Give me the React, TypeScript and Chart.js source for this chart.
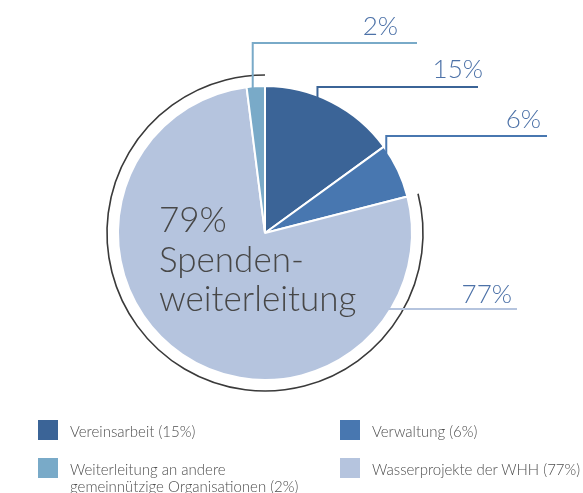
import React, { useEffect, useRef } from "react";
import { Chart, registerables } from "chart.js";

Chart.register(...registerables);

// ---- data ----
const categories = [
  "Vereinsarbeit",
  "Verwaltung",
  "Wasserprojekte der WHH",
  "Weiterleitung an andere gemeinnützige Organisationen",
];
const values = [15, 6, 77, 2];
const sliceColors = ["#3b6497", "#4877b0", "#b5c4de", "#79aac8"];
const legendOrder = [0, 1, 3, 2];
const legendLines = [
  ["Vereinsarbeit (15%)"],
  ["Verwaltung (6%)"],
  ["Wasserprojekte der WHH (77%)"],
  ["Weiterleitung an andere", "gemeinnützige Organisationen (2%)"],
];
const centerLines = ["Spenden-", "weiterleitung"];

// ---- layout (label placement, not data) ----
type LabelCfg = {
  idx: number;
  mode: "vertical" | "horizontal";
  frac: number;
  lineY: number;
  endX: number;
  textRight: number;
  baseline: number;
};
const labelCfgs: LabelCfg[] = [
  { idx: 3, mode: "vertical", frac: 0.33, lineY: 43, endX: 417, textRight: 398, baseline: 35 },
  { idx: 0, mode: "vertical", frac: 0.39, lineY: 87, endX: 478, textRight: 483, baseline: 78 },
  { idx: 1, mode: "vertical", frac: 0.1, lineY: 136, endX: 547, textRight: 541, baseline: 128 },
  { idx: 2, mode: "horizontal", frac: 0, lineY: 309, endX: 517, textRight: 512, baseline: 303 },
];

const FONT = "Lato, 'Open Sans', sans-serif";

const overlayPlugin = {
  id: "overlay",
  afterDatasetsDraw(chart: any) {
    const ctx = chart.ctx as CanvasRenderingContext2D;
    const meta = chart.getDatasetMeta(0);
    const arcs = meta.data as any[];
    if (!arcs.length) return;
    const cx = arcs[0].x;
    const cy = arcs[0].y;
    const r = arcs[0].outerRadius - 1;

    ctx.save();
    // outer arc around the Spendenweiterleitung part
    ctx.beginPath();
    ctx.strokeStyle = "#3a3a3a";
    ctx.lineWidth = 1.6;
    ctx.arc(cx, cy, r + 12, arcs[1].endAngle, arcs[3].endAngle, false);
    ctx.stroke();

    // leader lines and labels
    labelCfgs.forEach((cfg) => {
      const a = arcs[cfg.idx];
      ctx.strokeStyle = sliceColors[cfg.idx];
      ctx.lineWidth = 2;
      ctx.beginPath();
      if (cfg.mode === "vertical") {
        const ang = a.startAngle + cfg.frac * (a.endAngle - a.startAngle);
        const px = cx + Math.cos(ang) * r;
        const py = cy + Math.sin(ang) * r;
        ctx.moveTo(px, py + 2);
        ctx.lineTo(px, cfg.lineY);
        ctx.lineTo(cfg.endX, cfg.lineY);
      } else {
        const dy = cfg.lineY - cy;
        const px = cx + Math.sqrt(Math.max(r * r - dy * dy, 0));
        ctx.moveTo(px - 2, cfg.lineY);
        ctx.lineTo(cfg.endX, cfg.lineY);
      }
      ctx.stroke();

      ctx.fillStyle = "#4d72a8";
      ctx.font = `300 26px ${FONT}`;
      ctx.textAlign = "right";
      ctx.textBaseline = "alphabetic";
      ctx.fillText(`${values[cfg.idx]}%`, cfg.textRight, cfg.baseline);
    });

    // center text
    ctx.fillStyle = "#474747";
    ctx.font = `300 35px ${FONT}`;
    ctx.textAlign = "left";
    ctx.textBaseline = "alphabetic";
    const total = values[2] + values[3];
    ctx.fillText(`${total}%`, 159, 232);
    centerLines.forEach((t, i) => ctx.fillText(t, 159, 272 + i * 39));
    ctx.restore();
  },
};

export default function App() {
  const ref = useRef<HTMLCanvasElement | null>(null);
  useEffect(() => {
    if (!ref.current) return;
    const chart = new Chart(ref.current, {
      type: "pie",
      data: {
        labels: categories,
        datasets: [
          {
            data: values,
            backgroundColor: sliceColors,
            borderColor: "#ffffff",
            borderWidth: 2,
            hoverOffset: 0,
          },
        ],
      },
      options: {
        responsive: false,
        animation: false,
        radius: 147,
        layout: { padding: { left: 0, right: 53, top: 0, bottom: 27 } },
        plugins: {
          legend: { display: false },
          tooltip: { enabled: false },
        },
      } as any,
      plugins: [overlayPlugin],
    });
    return () => chart.destroy();
  }, []);

  const legendPos = [
    { x: 38, y: 420 },
    { x: 340, y: 420 },
    { x: 38, y: 458 },
    { x: 340, y: 458 },
  ];

  return (
    <div
      style={{
        position: "fixed",
        left: 0,
        top: 0,
        width: 583,
        height: 493,
        overflow: "hidden",
        background: "#fff",
      }}
    >
      <canvas ref={ref} width={583} height={493} style={{ position: "absolute", left: 0, top: 0 }} />
      {legendOrder.map((idx, i) => (
        <div key={idx} style={{ position: "absolute", left: legendPos[i].x, top: legendPos[i].y }}>
          <div
            style={{
              position: "absolute",
              left: 0,
              top: 0,
              width: 20,
              height: 20,
              background: sliceColors[idx],
            }}
          />
          <div
            style={{
              position: "absolute",
              left: 32,
              top: 3,
              whiteSpace: "nowrap",
              font: `300 15px ${FONT}`,
              lineHeight: "17px",
              color: "#4f4f4f",
            }}
          >
            {legendLines[idx].map((l, j) => (
              <div key={j}>{l}</div>
            ))}
          </div>
        </div>
      ))}
    </div>
  );
}
